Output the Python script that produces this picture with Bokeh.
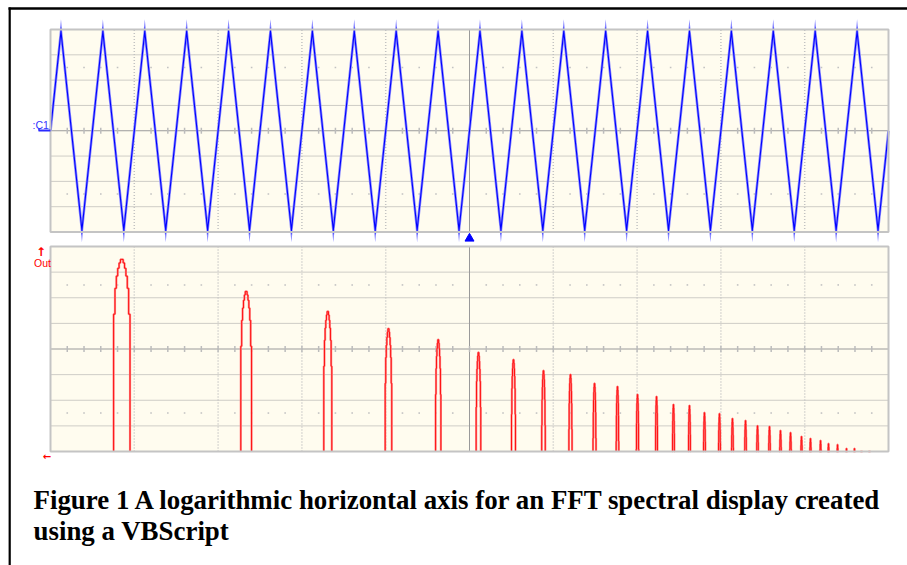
import math
from bokeh.plotting import figure
from bokeh.models import Range1d
from bokeh.core.properties import value
from bokeh.embed import file_html
from bokeh.resources import INLINE

# ---------------- data ----------------
# top trace: triangle wave, vertices in screen divisions (x 0..10, y -4..4)
wave_peak_t = [0.125, 0.625, 1.125, 1.625, 2.125, 2.625, 3.125, 3.625, 4.125, 4.625,
               5.125, 5.625, 6.125, 6.625, 7.125, 7.625, 8.125, 8.625, 9.125, 9.625]
wave_trough_t = [0.375, 0.875, 1.375, 1.875, 2.375, 2.875, 3.375, 3.875, 4.375, 4.875,
                 5.375, 5.875, 6.375, 6.875, 7.375, 7.875, 8.375, 8.875, 9.375, 9.875]
wave_peak_v = 3.92
wave_trough_v = -3.92
wave_start = [0.0, 0.0]
wave_end = [10.0, 0.0]

# bottom trace: FFT harmonics on a log frequency axis (x in divisions 0..10,
# level in divisions above the bottom of the screen, 0..8)
harm_x = [0.851, 2.335, 3.309, 4.033, 4.627, 5.107, 5.525, 5.883, 6.205, 6.492,
          6.766, 7.005, 7.232, 7.434, 7.625, 7.804, 7.983, 8.138, 8.294, 8.437,
          8.580, 8.711, 8.831, 8.962, 9.069, 9.189, 9.284, 9.392, 9.499, 9.594,
          9.678, 9.773]
harm_level = [7.54, 6.29, 5.51, 4.84, 4.41, 3.91, 3.63, 3.20, 3.05, 2.70,
              2.58, 2.27, 2.19, 1.88, 1.84, 1.56, 1.52, 1.33, 1.25, 1.05,
              1.02, 0.86, 0.78, 0.63, 0.55, 0.47, 0.35, 0.31, 0.16, 0.16,
              0.04, 0.04]

caption_lines = ["Figure 1 A logarithmic horizontal axis for an FFT spectral display created",
                 "using a VBScript"]

# ---------------- layout (pixels) ----------------
OFF = 0
W, H = 907, 565
PL, PR = 50, 888
T1, B1 = 29, 231.5      # top screen
T2, B2 = 246, 451       # bottom screen

def cx(xp):
    return xp - OFF

def cy(yp):
    return yp - OFF

L, R = cx(PL), cx(PR)
sx = 10.0 / (R - L)
t1, b1 = cy(T1), cy(B1)
s1 = 8.0 / (b1 - t1)
t2, b2 = cy(T2), cy(B2)
s2 = 8.0 / (b2 - t2)

p = figure(width=W, height=H, output_backend="svg", toolbar_location=None,
           x_axis_type=None, y_axis_type=None, min_border=0,
           x_range=Range1d(0, W), y_range=Range1d(H, 0),
           background_fill_color="white", border_fill_color="white",
           outline_line_color=None)
p.grid.visible = False
p.extra_x_ranges = {"div": Range1d(-L * sx, 10 + (W - R) * sx)}
p.extra_y_ranges = {"ty": Range1d(-4 - (H - b1) * s1, 4 + t1 * s1),
                    "by": Range1d(-(H - b2) * s2, 8 + t2 * s2)}

CREAM = "#fffcef"
BORDER = "#c4c4c4"
DOT = "#9e9e9e"
VDOT = "#c2c2c2"
AXIS = "#9a9a9a"


def screen(yr, lo, hi, s):
    mid = (lo + hi) / 2.0
    p.quad(left=[0], right=[10], bottom=[lo], top=[hi], x_range_name="div",
           y_range_name=yr, fill_color=CREAM, line_color=None)
    hy = [lo + k for k in range(1, 8) if lo + k != mid]
    p.segment(x0=[0] * len(hy), x1=[10] * len(hy), y0=hy, y1=hy,
              x_range_name="div", y_range_name=yr, line_color=DOT,
              line_width=1, line_dash="1 1")
    vx = [k for k in range(1, 10) if k != 5]
    p.segment(x0=vx, x1=vx, y0=[lo] * len(vx), y1=[hi] * len(vx),
              x_range_name="div", y_range_name=yr, line_color=VDOT,
              line_width=1.5, line_dash="1 2")
    # dot rows
    dx = [0.2 * k for k in range(1, 50) if k % 5 != 0]
    for yy in (mid - 2.5, mid + 2.5):
        p.scatter(x=dx, y=[yy] * len(dx), x_range_name="div", y_range_name=yr,
                  marker="square", size=1.6, line_color=None, fill_color=VDOT)
    # centre axes
    p.segment(x0=[0, 5], x1=[10, 5], y0=[mid, lo], y1=[mid, hi],
              x_range_name="div", y_range_name=yr, line_color=AXIS, line_width=1)
    tx = [0.2 * k for k in range(1, 50)]
    th = 3.0 * s
    p.segment(x0=tx, x1=tx, y0=[mid - th] * len(tx), y1=[mid + th] * len(tx),
              x_range_name="div", y_range_name=yr, line_color="#bcbcbc", line_width=1.5)


def border(yr, lo, hi):
    p.quad(left=[0], right=[10], bottom=[lo], top=[hi], x_range_name="div",
           y_range_name=yr, fill_color=None, line_color=BORDER, line_width=2)


screen("ty", -4, 4, s1)
screen("by", 0, 8, s2)

# ---- triangle wave ----
wx = [wave_start[0]]
wy = [wave_start[1]]
for tp, tt in zip(wave_peak_t, wave_trough_t):
    wx += [tp, tt]
    wy += [wave_peak_v, wave_trough_v]
wx.append(wave_end[0])
wy.append(wave_end[1])
p.line(wx, wy, x_range_name="div", y_range_name="ty", line_color="#8a8aff",
       line_width=2.6, line_join="miter")
p.line(wx, wy, x_range_name="div", y_range_name="ty", line_color="#0000ff",
       line_width=1.1, line_join="miter")

# ---- spectrum lobes ----
N_BINS = 12
lxs, lys = [], []
n = len(harm_x)
for i in range(n):
    xc, h = harm_x[i], harm_level[i]
    sp = harm_x[i + 1] - xc if i < n - 1 else xc - harm_x[i - 1]
    w = max(0.066 * sp, 1.1 * sx)
    du = 2.0 / N_BINS
    lx, ly = [xc - w], [0.0]
    for k in range(N_BINS):
        u = -1 + (k + 0.5) * du
        c = math.cos(math.pi / 2 * u)
        yv = max(h + 2.0 * math.log10(max(c, 1e-9)) - 0.45 * abs(u), 0.0)
        lx += [xc + (u - du / 2) * w, xc + (u + du / 2) * w]
        ly += [yv, yv]
    lx.append(xc + w)
    ly.append(0.0)
    lxs.append(lx)
    lys.append(ly)
p.multi_line(lxs, lys, x_range_name="div", y_range_name="by",
             line_color="#ff8c8c", line_width=2.2)
p.multi_line(lxs, lys, x_range_name="div", y_range_name="by",
             line_color="#ff1010", line_width=1.0)

border("ty", -4, 4)
border("by", 0, 8)

# ---- markers and labels ----
p.segment(x0=[cx(38)], x1=[cx(50)], y0=[cy(130)], y1=[cy(130)],
          line_color="#2a2aff", line_width=2)
p.segment(x0=[cx(38.5)], x1=[cx(38.5)], y0=[cy(127.5)], y1=[cy(130)],
          line_color="#2a2aff", line_width=1.5)
p.text(x=[cx(32)], y=[cy(124.5)], text=[":C1"], text_font=value("Liberation Sans"),
       text_font_size="10.5px", text_color="#3333ff", text_baseline="alphabetic")
p.scatter(x=[5], y=[cy(238)], x_range_name="div", marker="triangle", size=9,
          line_color="#0000ff", fill_color="#0000ff")
p.text(x=[cx(40.5)], y=[cy(251)], text=["↑"], text_font=value("DejaVu Sans"),
       text_font_size="12px", text_color="#ff0000", text_align="center",
       text_baseline="alphabetic", text_font_style="bold")
p.text(x=[cx(33.5)], y=[cy(262.5)], text=["Out"], text_font=value("Liberation Sans"),
       text_font_size="10.5px", text_color="#ff0000", text_baseline="alphabetic")
p.text(x=[cx(46.5)], y=[cy(455.5)], text=["←"], text_font=value("DejaVu Sans"),
       text_font_size="10px", text_color="#ff0000", text_align="center",
       text_baseline="middle", text_font_style="bold")

# ---- document frame ----
p.segment(x0=[cx(8)], x1=[W], y0=[cy(8)], y1=[cy(8)], line_color="black", line_width=2.5)
p.segment(x0=[cx(9.2)], x1=[cx(9.2)], y0=[cy(7)], y1=[H], line_color="black", line_width=2.2)

# ---- caption ----
for line, yb in zip(caption_lines, [499.5, 530.5]):
    p.text(x=[cx(33)], y=[cy(yb)], text=[line], text_font=value("Liberation Serif"),
           text_font_style="bold", text_font_size="26.9px", text_color="black",
           text_baseline="alphabetic")

open("out.html", "w").write(file_html(p, INLINE))
